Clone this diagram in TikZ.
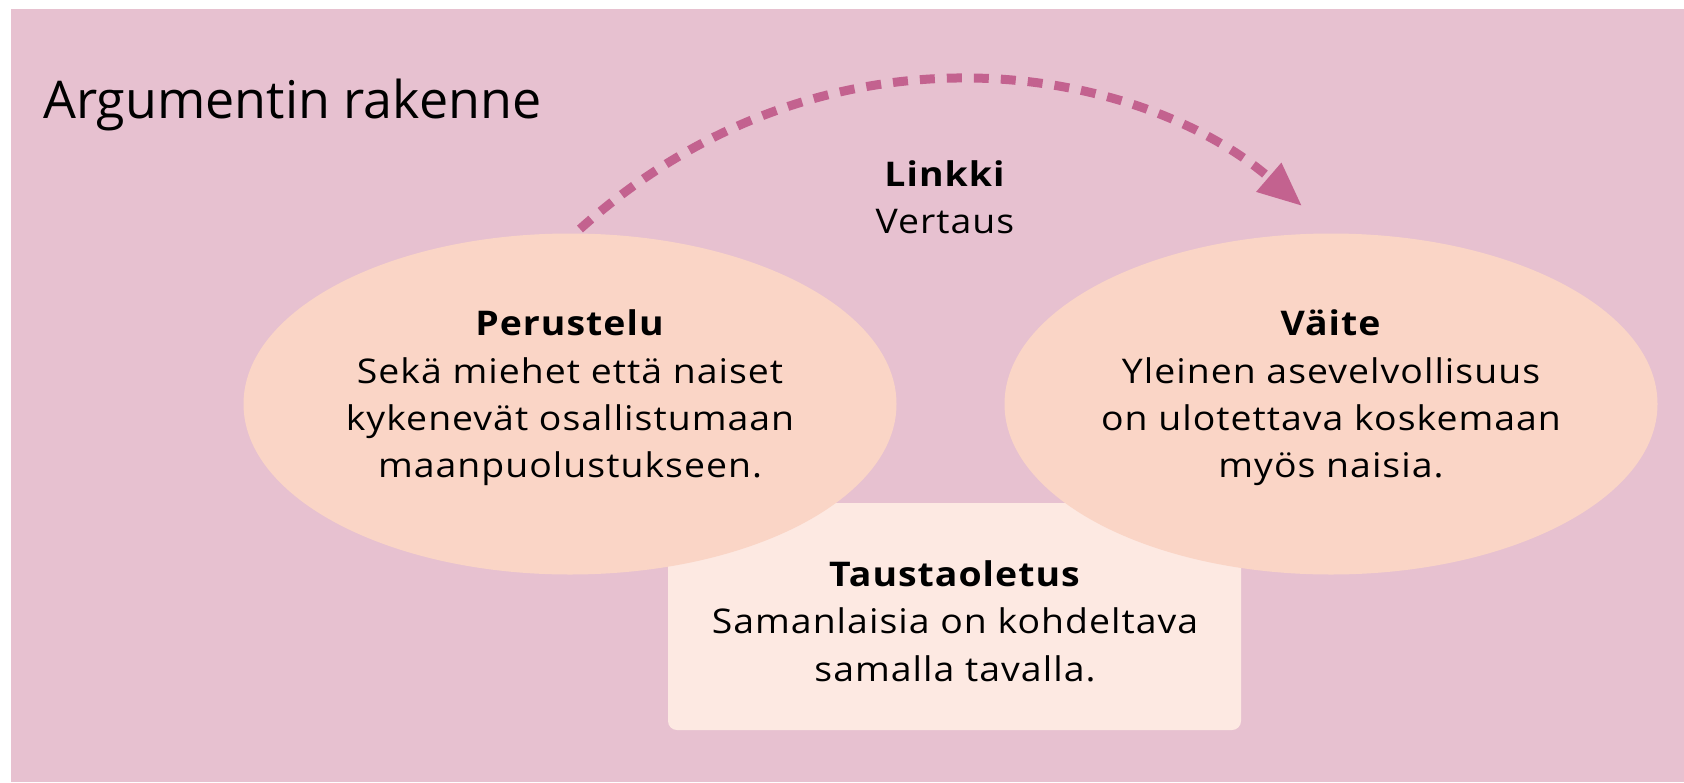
\documentclass[tikz,border=0pt]{standalone}
\usepackage{fontspec}
\setmainfont{Open Sans}
\newfontfamily\spacedfont[FakeStretch=1.1,LetterSpace=3]{Open Sans}
\usetikzlibrary{shapes.geometric,arrows.meta}
\definecolor{bgpink}{HTML}{E7C1D0}
\definecolor{peach}{HTML}{FAD5C6}
\definecolor{lightpeach}{HTML}{FDE9E2}
\definecolor{arrowpink}{HTML}{C3628F}
\tikzset{
  oval/.style={ellipse, fill=peach, draw=none, inner sep=0pt, minimum width=653pt, minimum height=341pt},
  bodytext/.style={align=center, font=\spacedfont\fontsize{34}{47.4}\selectfont, inner sep=0pt, text=black},
  assumptionbox/.style={rectangle, rounded corners=9pt, fill=lightpeach, draw=none, inner sep=0pt, minimum width=573pt, minimum height=227pt},
  linkarrow/.style={draw=arrowpink, line width=9pt, dash pattern=on 15pt off 12pt, -{Triangle[length=44pt,width=36pt]}}
}
\begin{document}
\begin{tikzpicture}[x=1pt,y=-1pt]
\useasboundingbox (0,0) rectangle (1684,782);
\fill[white] (0,0) rectangle (1684,782);
\fill[bgpink] (11,9) rectangle (1684,782);
\node[anchor=base west, inner sep=0pt, font=\fontsize{52}{60}\selectfont] (title) at (43,118) {Argumentin rakenne};
\node[assumptionbox] (box) at (954.5,616.5) {};
\node[oval] (perustelu) at (570,404) {};
\node[oval] (vaite) at (1331,404) {};
\node[bodytext] (perText) at (570,398) {\textbf{Perustelu}\\Sekä miehet että naiset\\kykenevät osallistumaan\\maanpuolustukseen.};
\node[bodytext] (vaiText) at (1331,398) {\textbf{Väite}\\Yleinen asevelvollisuus\\on ulotettava koskemaan\\myös naisia.};
\node[bodytext] (taustaText) at (955,621) {\textbf{Taustaoletus}\\Samanlaisia on kohdeltava\\samalla tavalla.};
\node[bodytext] (linkText) at (945,197) {\textbf{Linkki}\\Vertaus};
\coordinate (linkStart) at (580,229);
\coordinate (linkEnd) at (1302,206);
\draw[linkarrow] (linkStart) .. controls (827,7) and (1139,65) .. (linkEnd);
\end{tikzpicture}
\end{document}
